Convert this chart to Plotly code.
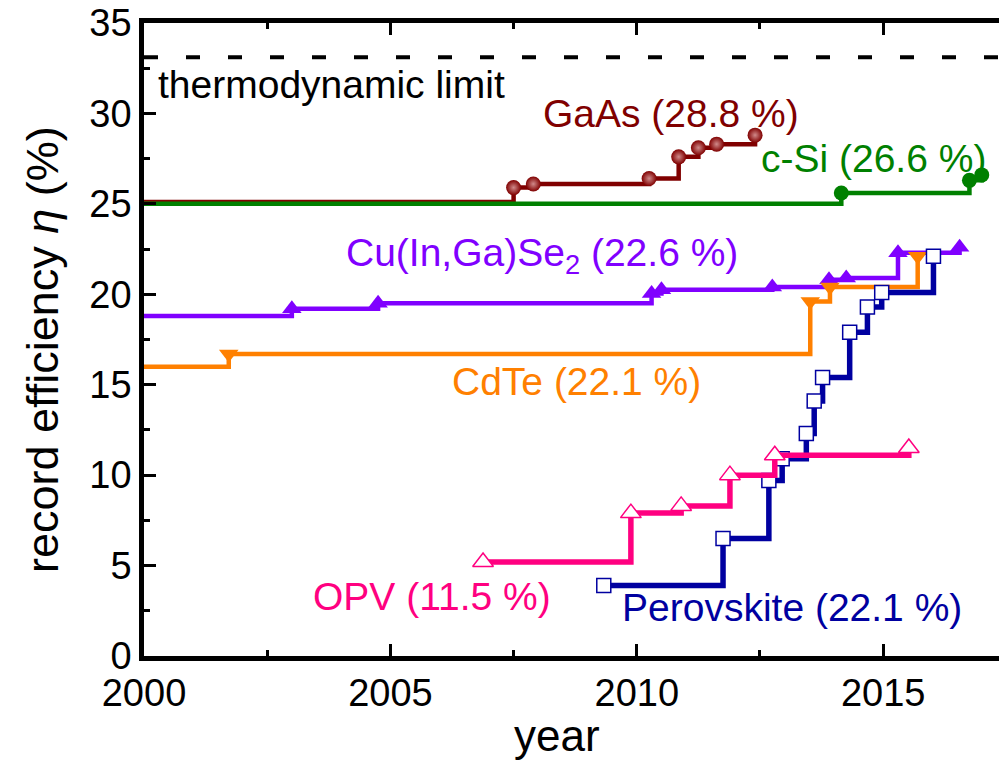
import plotly.graph_objects as go

# ---------------- data ----------------
THERMO_LIMIT = 33.1
X_START = 2000

gaas_start = 25.1
gaas_year = [2007.5, 2007.9, 2010.25, 2010.85, 2011.25, 2011.62, 2012.4]
gaas_eff = [25.9, 26.1, 26.4, 27.6, 28.1, 28.3, 28.8]

csi_start = 25.0
csi_year = [2014.15, 2016.75, 2017.0]
csi_eff = [25.6, 26.3, 26.6]

cigs_start = 18.8
cigs_year = [2003.0, 2004.75, 2010.3, 2010.5, 2012.75, 2013.9, 2014.25, 2015.3, 2016.55]
cigs_eff = [19.2, 19.5, 20.05, 20.25, 20.4, 20.8, 20.9, 22.3, 22.6]

cdte_start = 16.0
cdte_year = [2001.72, 2013.52, 2013.92, 2015.7]
cdte_eff = [16.7, 19.6, 20.4, 22.1]

pero_year = [2009.33, 2011.75, 2012.68, 2012.95, 2013.44, 2013.6, 2013.77, 2014.32, 2014.68, 2014.97, 2016.02]
pero_eff = [3.9, 6.5, 9.7, 10.9, 12.3, 14.1, 15.4, 17.9, 19.3, 20.1, 22.1]

opv_year = [2006.88, 2009.88, 2010.9, 2011.89, 2012.8, 2015.52]
opv_eff = [5.2, 7.9, 8.3, 10.0, 11.1, 11.5]

X_MAX = 2017.35
Y_MAX = 35

FONT = "Liberation Sans, Arial, sans-serif"

C_GAAS = "#800000"
C_CSI = "#008000"
C_CIGS = "#8000FF"
C_CDTE = "#FF8000"
C_PERO = "#0000A0"
C_OPV = "#FF0080"

fig = go.Figure()

# thermodynamic limit
fig.add_trace(go.Scatter(x=[X_START, X_MAX], y=[THERMO_LIMIT, THERMO_LIMIT], mode="lines",
                         line=dict(color="black", width=4, dash="14px,28px"), hoverinfo="skip"))


def step_series(start, years, effs, color, width):
    xs = ([X_START] if start is not None else []) + years
    ys = ([start] if start is not None else []) + effs
    fig.add_trace(go.Scatter(x=xs, y=ys, mode="lines", line=dict(color=color, width=width, shape="hv")))


def marker_series(years, effs, marker):
    fig.add_trace(go.Scatter(x=years, y=effs, mode="markers", marker=marker))


step_series(gaas_start, gaas_year, gaas_eff, C_GAAS, 4.5)
marker_series(gaas_year, gaas_eff, dict(symbol="circle", size=15, color=C_GAAS,
                                        gradient=dict(type="radial", color="#D08A8A"),
                                        line=dict(width=0)))

step_series(csi_start, csi_year, csi_eff, C_CSI, 4.5)
marker_series(csi_year, csi_eff, dict(symbol="circle", size=15, color=C_CSI, line=dict(width=0)))

step_series(cigs_start, cigs_year, cigs_eff, C_CIGS, 4.5)
marker_series(cigs_year, cigs_eff, dict(symbol="triangle-up", size=17, color=C_CIGS, line=dict(width=0)))

step_series(cdte_start, cdte_year, cdte_eff, C_CDTE, 4.5)
marker_series(cdte_year, cdte_eff, dict(symbol="triangle-down", size=17, color=C_CDTE, line=dict(width=0)))

step_series(None, pero_year, pero_eff, C_PERO, 5.5)
marker_series(pero_year, pero_eff, dict(symbol="square", size=14, color="white",
                                        line=dict(color=C_PERO, width=1.5)))

step_series(None, opv_year, opv_eff, C_OPV, 5.5)
marker_series(opv_year, opv_eff, dict(symbol="triangle-up", size=18, color="white",
                                      line=dict(color=C_OPV, width=1.5)))

labels = [
    ("thermodynamic limit", 2000.25, 31.6, "black"),
    ("GaAs (28.8 %)", 2008.05, 30.0, C_GAAS),
    ("c-Si (26.6 %)", 2012.48, 27.5, C_CSI),
    ("Cu(In,Ga)Se<sub>2</sub> (22.6 %)", 2004.06, 22.15, C_CIGS),
    ("CdTe (22.1 %)", 2006.2, 15.2, C_CDTE),
    ("OPV (11.5 %)", 2003.39, 3.3, C_OPV),
    ("Perovskite (22.1 %)", 2009.65, 2.7, C_PERO),
]
for txt, lx, ly, col in labels:
    fig.add_annotation(x=lx, y=ly, text=txt, showarrow=False, xanchor="left", yanchor="middle",
                       font=dict(family=FONT, size=39, color=col))

# axis titles
fig.add_annotation(xref="paper", yref="paper", x=(557 - 144) / (999 - 144), y=(656 - 735) / (656 - 23),
                   text="year", showarrow=False, xanchor="center", yanchor="middle",
                   font=dict(family=FONT, size=44, color="black"))
fig.add_annotation(xref="paper", yref="paper", x=(42 - 144) / (999 - 144), y=(656 - 350) / (656 - 23),
                   text="record efficiency <i>η</i> (%)", showarrow=False, textangle=-90,
                   xanchor="center", yanchor="middle",
                   font=dict(family=FONT, size=45, color="black"))

axis_common = dict(showline=True, linecolor="black", linewidth=4.5, ticks="inside", ticklen=12,
                   tickwidth=3, tickcolor="black", showgrid=False, zeroline=False,
                   tickfont=dict(family=FONT, size=38, color="black"))

fig.update_xaxes(range=[X_START, X_MAX], dtick=5, tick0=2000, mirror="ticks",
                 minor=dict(dtick=2.5, ticks="inside", ticklen=6, tickwidth=3, tickcolor="black"),
                 **axis_common)
fig.update_yaxes(range=[0, Y_MAX], dtick=5, tick0=0,
                 minor=dict(dtick=2.5, ticks="inside", ticklen=6, tickwidth=3, tickcolor="black"),
                 **axis_common)

fig.update_layout(width=999, height=761, margin=dict(l=144, r=0, t=23, b=105),
                  paper_bgcolor="white", plot_bgcolor="white", showlegend=False,
                  font=dict(family=FONT))

fig.write_html("out.html")
